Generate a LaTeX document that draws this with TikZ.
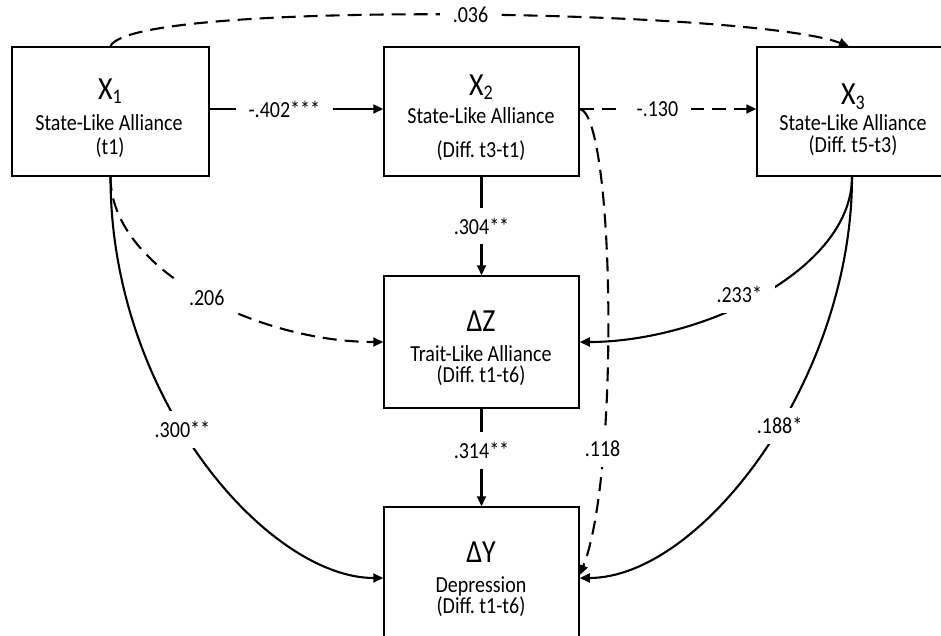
\documentclass[tikz,border=0pt]{standalone}
\usepackage{fontspec}
\setmainfont{Carlito}
\usepackage{graphicx}
\usetikzlibrary{arrows.meta}
% slightly tall lettering, and a lowered index digit
\newcommand{\stxt}[1]{\scalebox{1}[1.15]{#1}}
\newcommand{\idx}[1]{\raisebox{-4pt}{\fontsize{18}{18}\selectfont #1}}

\begin{document}
\begin{tikzpicture}[x=1pt,y=-1pt,
  box/.style={draw, line width=1.5pt, minimum width=195pt, minimum height=129pt, inner sep=0pt},
  big/.style={font=\fontsize{28}{30}\selectfont, inner sep=0pt},
  sub/.style={font=\fontsize{20}{22}\selectfont, inner sep=0pt},
  sub2/.style={align=center, inner sep=0pt, font=\fontsize{20}{#1}\selectfont},
  link/.style={line width=2.1pt, -{Triangle[length=10pt,width=9pt]}},
  dlink/.style={link, dash pattern=on 14pt off 8pt},
  coef/.style={fill=white, font=\fontsize{20}{22}\selectfont, inner xsep=13pt, inner ysep=10pt}
]
% two-line captions keep a fixed line pitch
\lineskiplimit=-30pt
\useasboundingbox (0,0) rectangle (941,636);
\clip (0,0) rectangle (941,636);

% variable boxes
\node[box, minimum width=197pt] (x1) at (110.5,111.5) {};
\node[box] (x2) at (481.5,111.5) {};
\node[box, minimum width=196pt] (x3) at (855,111.5) {};
\node[box, minimum height=132pt] (dz) at (481.5,342) {};
\node[box, minimum height=140pt] (dy) at (481.5,577) {};

% box texts
\node[big] (x1a) at (110,91) {\stxt{X\idx{1}}};
\node[sub] (x1b) at (109,123) {\stxt{State-Like Alliance}};
\node[sub] (x1c) at (110,148) {\stxt{(t1)}};

\node[big] (x2a) at (481,87) {\stxt{X\idx{2}}};
\node[sub] (x2b) at (481,116) {\stxt{State-Like Alliance}};
\node[sub] (x2c) at (481,151) {\stxt{(Diff.\ t3-t1)}};

\node[big] (x3a) at (853,97) {\stxt{X\idx{3}}};
\node[sub2=22] (x3b) at (853,135) {\stxt{State-Like Alliance}\\\stxt{(Diff.\ t5-t3)}};

\node[big] (dza) at (481,321) {\stxt{ΔZ}};
\node[sub2=21] (dzb) at (481,366) {\stxt{Trait-Like Alliance}\\\stxt{(Diff.\ t1-t6)}};

\node[big] (dya) at (481,552) {\stxt{ΔY}};
\node[sub2=21] (dyb) at (481,597) {\stxt{Depression}\\\stxt{(Diff.\ t1-t6)}};

% straight paths
\draw[link] ([yshift=2.5pt]x1.east) -- node[coef, pos=0.43] (c12) {\stxt{-.402***}} ([yshift=2.5pt]x2.west);
\draw[dlink] ([yshift=2.5pt]x2.east) -- node[coef, pos=0.44] (c23) {\stxt{-.130}} ([yshift=2.5pt]x3.west);
\draw[link] (x2.south) -- node[coef] (c2z) {\stxt{.304**}} (dz.north);
\draw[link] (dz.south) -- node[coef, pos=0.43] (czy) {\stxt{.314**}} (dy.north);

% curved paths
\draw[dlink] (x1.north) .. controls +(20,-47) and +(-99,-37) .. node[coef, pos=0.52] (c13) {\stxt{.036}} ([xshift=-6pt]x3.north);
\draw[dlink] (x1.south) .. controls +(0,94) and +(-124,0) .. node[coef, pos=0.52] (c1z) {\stxt{.206}} (dz.west);
\draw[link] (x1.south) .. controls +(0,224) and +(-114,0) .. node[coef, pos=0.43] (c1y) {\stxt{.300**}} ([yshift=-1pt]dy.west);
\draw[link] ([xshift=-3pt]x3.south) .. controls +(0,94) and +(121,0) .. node[coef, pos=0.5, xshift=-22pt] (c3z) {\stxt{.233*}} (dz.east);
\draw[link] ([xshift=-3pt]x3.south) .. controls +(0,204) and +(121,0) .. node[coef, pos=0.44] (c3y) {\stxt{.188*}} ([yshift=-1pt]dy.east);
\draw[dlink] ([yshift=2.5pt]x2.east) .. controls +(35,6) and +(40,-100) .. node[coef, pos=0.73] (c2y) {\stxt{.118}} ([yshift=2pt]dy.east);
\end{tikzpicture}
\end{document}
